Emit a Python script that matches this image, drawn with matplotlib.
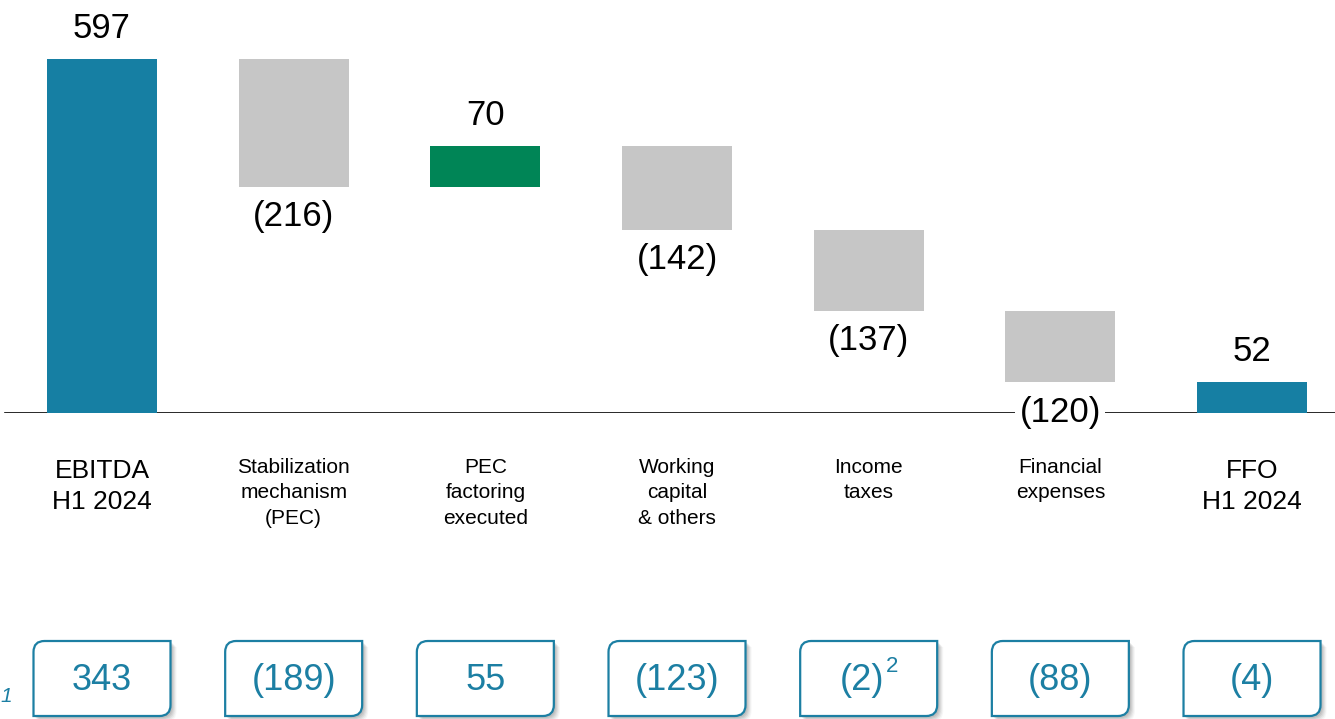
import matplotlib
matplotlib.use("Agg")
import matplotlib.pyplot as plt
import numpy as np
from matplotlib.path import Path
from matplotlib.patches import PathPatch
from matplotlib.transforms import blended_transform_factory, ScaledTranslation

plt.rcParams['font.family'] = ['Liberation Sans', 'DejaVu Sans']

# ---- data ----
categories = ["EBITDA\nH1 2024", "Stabilization\nmechanism\n(PEC)", "PEC\nfactoring\nexecuted",
              "Working\ncapital\n& others", "Income\ntaxes", "Financial\nexpenses", "FFO\nH1 2024"]
values = [597, -216, 70, -142, -137, -120, 52]
value_labels = ["597", "(216)", "70", "(142)", "(137)", "(120)", "52"]
kinds = ["total", "delta", "delta", "delta", "delta", "delta", "total"]
box_labels = ["343", "(189)", "55", "(123)", "(2)", "(88)", "(4)"]
box_superscripts = ["", "", "", "", "2", "", ""]

BLUE = "#167FA3"
GREY = "#C6C6C6"
GREEN = "#008556"
TEAL = "#1C7FA3"

W, H, DPI = 1335, 719, 100
fig = plt.figure(figsize=(W / DPI, H / DPI), dpi=DPI)

px_per_cat = 191.67
x_left = -102 / px_per_cat
x_right = x_left + W / px_per_cat
base_py = 413
px_per_unit = 0.593
ax_bottom = 1 - base_py / H
ax = fig.add_axes([0, ax_bottom, 1, 1 - ax_bottom])
ax.set_xlim(x_left, x_right)
ax.set_ylim(0, base_py / px_per_unit)
ax.axis("off")

# ---- waterfall ----
x = np.arange(len(categories))
bottoms, heights, colors = [], [], []
running = 0
for v, k in zip(values, kinds):
    if k == "total":
        bottoms.append(0); heights.append(v); colors.append(BLUE); running = v
    else:
        if v >= 0:
            bottoms.append(running); heights.append(v); colors.append(GREEN)
        else:
            bottoms.append(running + v); heights.append(-v); colors.append(GREY)
        running += v

bar_w = 110 / px_per_cat
ax.bar(x, heights, bottom=bottoms, width=bar_w, color=colors, edgecolor="none", zorder=2)

# baseline
ax.axhline(0, xmin=5 / W, xmax=1, color="black", lw=1.9, zorder=1)

for i, (v, lab) in enumerate(zip(values, value_labels)):
    top = bottoms[i] + heights[i]
    if v >= 0:
        ax.annotate(lab, (x[i], top), xytext=(0, 22), textcoords="offset points",
                    ha="center", va="center", fontsize=25, color="black", zorder=4,
                    annotation_clip=False)
    else:
        ax.annotate(lab, (x[i], bottoms[i]), xytext=(0, -21.5), textcoords="offset points",
                    ha="center", va="center", fontsize=25, color="black", zorder=4,
                    annotation_clip=False,
                    bbox=dict(boxstyle="square,pad=0.12", fc="white", ec="none"))

# ---- category labels ----
tr = blended_transform_factory(ax.transData, fig.transFigure)
for i, cat in enumerate(categories):
    if kinds[i] == "total":
        ax.text(x[i], 1 - 459 / H, cat, transform=tr, ha="center", va="top",
                fontsize=19, linespacing=1.36, color="black")
    else:
        ax.text(x[i], 1 - 458 / H, cat, transform=tr, ha="center", va="top",
                fontsize=15, linespacing=1.43, color="black")

# ---- bottom boxes ----
def box_path(xc, wdata, ytop, ybot, rx, ry):
    x0, x1 = xc - wdata / 2, xc + wdata / 2
    verts = [(x0, ybot), (x0, ytop - ry), (x0, ytop), (x0 + rx, ytop),
             (x1, ytop), (x1, ybot + ry), (x1, ybot), (x1 - rx, ybot), (x0, ybot), (x0, ybot)]
    codes = [Path.MOVETO, Path.LINETO, Path.CURVE3, Path.CURVE3,
             Path.LINETO, Path.LINETO, Path.CURVE3, Path.CURVE3, Path.LINETO, Path.CLOSEPOLY]
    return Path(verts, codes)

box_w = 137 / px_per_cat
ytop = 1 - 641 / H
ybot = 1 - 716 / H
rx = 11 / px_per_cat
ry = 11 / H
for i, lab in enumerate(box_labels):
    p = box_path(x[i], box_w, ytop, ybot, rx, ry)
    for d, a in [(6, 0.05), (5, 0.07), (4, 0.09), (3, 0.11), (2, 0.12)]:
        sh = tr + ScaledTranslation(d / DPI, -d / DPI, fig.dpi_scale_trans)
        ax.add_patch(PathPatch(p, transform=sh, fc="#555555", ec="none", alpha=a,
                               clip_on=False, zorder=5))
    ax.add_patch(PathPatch(p, transform=tr, fc="white", ec=TEAL, lw=1.6,
                           clip_on=False, zorder=6))
    if box_superscripts[i]:
        ax.text(x[i] - 7 / px_per_cat, 1 - 681 / H, lab, transform=tr, ha="center", va="center",
                fontsize=26, color=TEAL, zorder=7)
        ax.text(x[i] + 23 / px_per_cat, 1 - 666 / H, box_superscripts[i], transform=tr,
                ha="center", va="center", fontsize=16, color=TEAL, zorder=7)
    else:
        ax.text(x[i], 1 - 681 / H, lab, transform=tr, ha="center", va="center",
                fontsize=26, color=TEAL, zorder=7)

fig.text(6 / W, 1 - 697 / H, "1", ha="center", va="center", fontsize=15,
         style="italic", color=TEAL)

fig.savefig("out.png", dpi=DPI)
